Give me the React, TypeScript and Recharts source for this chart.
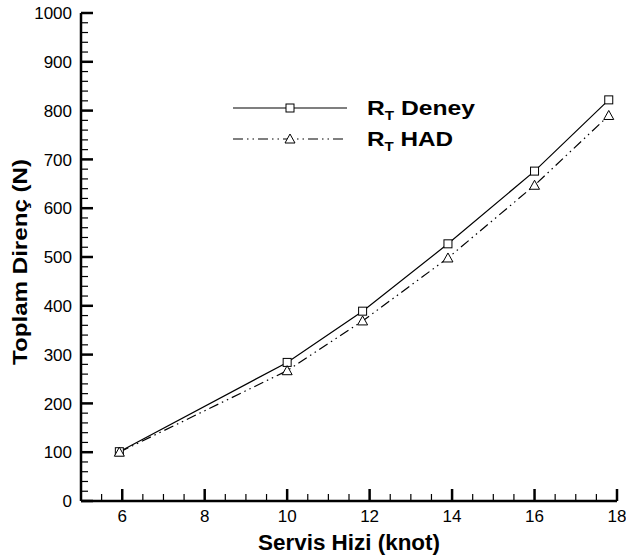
import { LineChart, Line, XAxis, YAxis, Legend } from 'recharts';

// Servis hizi (knot) and total resistance (N)
const speeds = [5.93, 10, 11.83, 13.9, 16, 17.8];
const deney = [101, 284, 389, 527, 676, 822];
const had = [100, 267, 369, 498, 647, 790];

const xLabels = [6, 8, 10, 12, 14, 16, 18];
const yLabels = [0, 100, 200, 300, 400, 500, 600, 700, 800, 900, 1000];
const xMinorStep = 0.5;
const yMinorStep = 20;

const FONT = '"Liberation Sans", Arial, Helvetica, sans-serif';
const TICK_GAP = 9;

const data = speeds.map((s, i) => ({ speed: s, deney: deney[i], had: had[i] }));

const xTicks: number[] = [];
for (let v = 5 + xMinorStep; v <= 18 + 1e-9; v += xMinorStep) xTicks.push(Math.round(v * 10) / 10);
const yTicks: number[] = [];
for (let v = 0; v <= 1000; v += yMinorStep) yTicks.push(v);

const HAD_DASH = '10 4 1.5 4 1.5 4';

function SquareDot(props: any) {
  const { cx, cy, index } = props;
  return <rect key={`sq-${index}`} x={cx - 4} y={cy - 4} width={8} height={8} fill="#fff" stroke="#000" strokeWidth={1} />;
}

function TriangleDot(props: any) {
  const { cx, cy, index } = props;
  return (
    <path
      key={`tr-${index}`}
      d={`M${cx},${cy - 5} L${cx + 5},${cy + 4} L${cx - 5},${cy + 4} Z`}
      fill="#fff"
      stroke="#000"
      strokeWidth={1}
    />
  );
}

function YTick(props: any) {
  const { x, y, payload } = props;
  const v = payload.value;
  const major = yLabels.includes(v);
  const ax = x + TICK_GAP;
  return (
    <g>
      <line x1={ax} x2={ax + (major ? 12 : 7)} y1={y} y2={y} stroke="#000" strokeWidth={major ? 2.5 : 1.2} />
      {major && (
        <text x={x} y={y} dy="0.36em" textAnchor="end" fontSize={17} fontFamily={FONT} fill="#000">
          {v}
        </text>
      )}
    </g>
  );
}

function XTick(props: any) {
  const { x, y, payload } = props;
  const v = payload.value;
  const major = xLabels.includes(v);
  const ay = y - TICK_GAP;
  return (
    <g>
      <line x1={x} x2={x} y1={ay} y2={ay - (major ? 12 : 7)} stroke="#000" strokeWidth={major ? 2.5 : 1.2} />
      {major && (
        <text x={x} y={y} dy="0.72em" textAnchor="middle" fontSize={17} fontFamily={FONT} fill="#000">
          {v}
        </text>
      )}
    </g>
  );
}

function YLabel(props: any) {
  const { viewBox } = props;
  const cx = viewBox.x + 27;
  const cy = viewBox.y + viewBox.height / 2 + 5;
  return (
    <text
      x={cx}
      y={cy}
      transform={`rotate(-90, ${cx}, ${cy})`}
      textAnchor="middle"
      fontSize={21}
      fontWeight="bold"
      fontFamily={FONT}
      fill="#000"
      textLength={206}
      lengthAdjust="spacingAndGlyphs"
    >
      Toplam Direnç (N)
    </text>
  );
}

function XLabel(props: any) {
  const { viewBox } = props;
  return (
    <text
      x={viewBox.x + viewBox.width / 2}
      y={viewBox.y + 49}
      textAnchor="middle"
      fontSize={22}
      fontWeight="bold"
      fontFamily={FONT}
      fill="#000"
      textLength={182}
      lengthAdjust="spacingAndGlyphs"
    >
      Servis Hizi (knot)
    </text>
  );
}

const legendNames: Record<string, string> = { deney: 'Deney', had: 'HAD' };
const legendLengths: Record<string, number> = { deney: 108, had: 86 };

function LegendBox(props: any) {
  const { payload = [] } = props;
  return (
    <svg width={280} height={70} style={{ display: 'block' }}>
      {payload.map((item: any, i: number) => {
        const key = item.dataKey as string;
        const y = 18 + i * 31;
        const dash = item.payload?.strokeDasharray;
        return (
          <g key={key}>
            <line x1={13} x2={127} y1={y} y2={y} stroke="#000" strokeWidth={1.2} strokeDasharray={dash} />
            {key === 'deney' ? <SquareDot cx={70} cy={y} index={i} /> : <TriangleDot cx={70} cy={y} index={i} />}
            <text
              x={147}
              y={y + 7}
              fontSize={21}
              fontWeight="bold"
              fontFamily={FONT}
              fill="#000"
              textLength={legendLengths[key]}
              lengthAdjust="spacingAndGlyphs"
            >
              R<tspan fontSize={13} dy={5}>T</tspan>
              <tspan dy={-5}> {legendNames[key]}</tspan>
            </text>
          </g>
        );
      })}
    </svg>
  );
}

export default function App() {
  return (
    <div style={{ position: 'absolute', left: 0, top: 0, background: '#fff' }}>
      <LineChart width={626} height={560} data={data} margin={{ top: 13, right: 9, bottom: 0, left: 0 }}>
        <XAxis
          dataKey="speed"
          type="number"
          domain={[5, 18]}
          ticks={xTicks}
          interval={0}
          height={59}
          tickSize={0}
          tickMargin={TICK_GAP}
          tickLine={false}
          axisLine={{ stroke: '#000', strokeWidth: 2.5 }}
          tick={<XTick />}
          label={<XLabel />}
        />
        <YAxis
          type="number"
          domain={[0, 1000]}
          ticks={yTicks}
          interval={0}
          width={81}
          tickSize={0}
          tickMargin={TICK_GAP}
          tickLine={false}
          axisLine={{ stroke: '#000', strokeWidth: 2.5 }}
          tick={<YTick />}
          label={<YLabel />}
        />
        <Legend
          layout="vertical"
          align="center"
          verticalAlign="middle"
          wrapperStyle={{ left: 220, top: 90, width: 280 }}
          content={<LegendBox />}
        />
        <Line
          dataKey="deney"
          name="Deney"
          stroke="#000"
          strokeWidth={1.2}
          dot={<SquareDot />}
          activeDot={false}
          isAnimationActive={false}
        />
        <Line
          dataKey="had"
          name="HAD"
          stroke="#000"
          strokeWidth={1.2}
          strokeDasharray={HAD_DASH}
          dot={<TriangleDot />}
          activeDot={false}
          isAnimationActive={false}
        />
      </LineChart>
    </div>
  );
}
